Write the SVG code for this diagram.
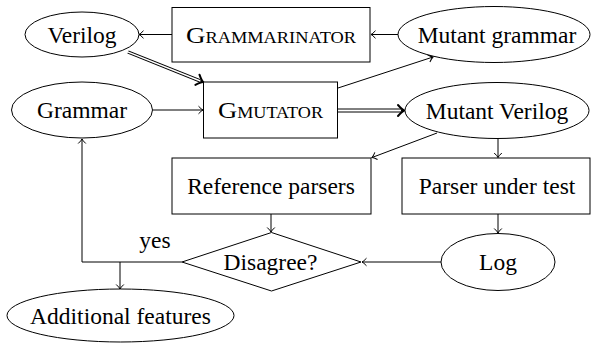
<svg xmlns="http://www.w3.org/2000/svg" width="592" height="343" viewBox="0 0 592 343" font-family="Liberation Serif, serif">
<style>
.s{fill:#fff;stroke:#000;stroke-width:1}
.t{font-size:23.5px;fill:#000;text-anchor:middle}
.sc{font-variant:small-caps}
.c{fill:none;stroke:#000;stroke-width:1}
.d1{fill:none;stroke:#000;stroke-width:3.4}
.d2{fill:none;stroke:#fff;stroke-width:1.5}
</style>
<defs>
<marker id="a" markerUnits="userSpaceOnUse" markerWidth="12" markerHeight="12" viewBox="-6 -6 12 12" refX="0" refY="0" orient="auto" overflow="visible">
<path d="M-4.5,-3.8 Q-1.5,-0.6 0,0 Q-1.5,0.6 -4.5,3.8" fill="none" stroke="#000" stroke-width="1"/>
</marker>
<marker id="b" markerUnits="userSpaceOnUse" markerWidth="16" markerHeight="16" viewBox="-8 -8 16 16" refX="0" refY="0" orient="auto" overflow="visible">
<path d="M-6,-5.5 Q-2,-1 0,0 Q-2,1 -6,5.5" fill="none" stroke="#000" stroke-width="2" stroke-linecap="round"/>
</marker>
</defs>
<g id="connectors">
<line class="c" x1="172" y1="34.5" x2="139" y2="34.5" marker-end="url(#a)"/>
<line class="c" x1="398" y1="34.5" x2="371" y2="34.5" marker-end="url(#a)"/>
<line class="d1" x1="128" y1="52" x2="200" y2="80.8"/>
<line class="d2" x1="127" y1="51.6" x2="201" y2="81.2"/>
<line class="c" x1="200" y1="80.8" x2="203" y2="82" stroke="none" marker-end="url(#b)"/>
<line class="c" x1="153" y1="110" x2="203" y2="110" marker-end="url(#a)"/>
<line class="c" x1="338" y1="88" x2="433" y2="57" marker-end="url(#a)"/>
<line class="c" x1="338" y1="109" x2="401" y2="109"/>
<line class="c" x1="338" y1="112" x2="401" y2="112"/>
<line class="c" x1="401" y1="110.5" x2="404" y2="110.5" stroke="none" marker-end="url(#b)"/>
<line class="c" x1="437" y1="133" x2="372" y2="157.5" marker-end="url(#a)"/>
<line class="c" x1="498" y1="138" x2="498" y2="157.5" marker-end="url(#a)"/>
<line class="c" x1="271" y1="214" x2="271" y2="232" marker-end="url(#a)"/>
<line class="c" x1="498" y1="214" x2="498" y2="233" marker-end="url(#a)"/>
<line class="c" x1="441" y1="262" x2="362" y2="262" marker-end="url(#a)"/>
<path class="c" d="M182,262 H82 V139" marker-end="url(#a)"/>
<line class="c" x1="120" y1="262" x2="120" y2="289" marker-end="url(#a)"/>
<text class="t" x="155" y="248" font-family="Liberation Serif, serif">yes</text>
</g>
<g id="verilog"><ellipse class="s" cx="82" cy="34.5" rx="57" ry="22.5"/><text class="t" x="82" y="42.5" font-family="Liberation Serif, serif">Verilog</text></g>
<g id="grammarinator"><rect class="s" x="172" y="7.5" width="198" height="54.5"/><text class="t sc" x="271" y="42.5" textLength="170" lengthAdjust="spacingAndGlyphs" font-family="Liberation Serif, serif">Grammarinator</text></g>
<g id="mutant-grammar"><ellipse class="s" cx="494" cy="34.5" rx="96" ry="28"/><text class="t" x="497" y="42.5" font-family="Liberation Serif, serif">Mutant grammar</text></g>
<g id="grammar"><ellipse class="s" cx="82" cy="110" rx="70.5" ry="28"/><text class="t" x="82" y="118" font-family="Liberation Serif, serif">Grammar</text></g>
<g id="gmutator"><rect class="s" x="203.5" y="82" width="134" height="56"/><text class="t sc" x="270.5" y="118" textLength="105" lengthAdjust="spacingAndGlyphs" font-family="Liberation Serif, serif">Gmutator</text></g>
<g id="mutant-verilog"><ellipse class="s" cx="497" cy="110.5" rx="92" ry="28"/><text class="t" x="497" y="118.5" font-family="Liberation Serif, serif">Mutant Verilog</text></g>
<g id="reference-parsers"><rect class="s" x="172" y="158" width="199" height="56"/><text class="t" x="271" y="194" font-family="Liberation Serif, serif">Reference parsers</text></g>
<g id="parser-under-test"><rect class="s" x="402" y="158" width="188" height="56"/><text class="t" x="497" y="194" font-family="Liberation Serif, serif">Parser under test</text></g>
<g id="log"><ellipse class="s" cx="498" cy="262" rx="57" ry="28.5"/><text class="t" x="498" y="270" font-family="Liberation Serif, serif">Log</text></g>
<g id="disagree"><polygon class="s" points="182,262 271.5,232.5 361,262 271.5,291"/><text class="t" x="270.5" y="270" font-family="Liberation Serif, serif">Disagree?</text></g>
<g id="additional-features"><ellipse class="s" cx="120.5" cy="315.5" rx="113.5" ry="26.5"/><text class="t" x="120.5" y="324" font-family="Liberation Serif, serif">Additional features</text></g>
</svg>
